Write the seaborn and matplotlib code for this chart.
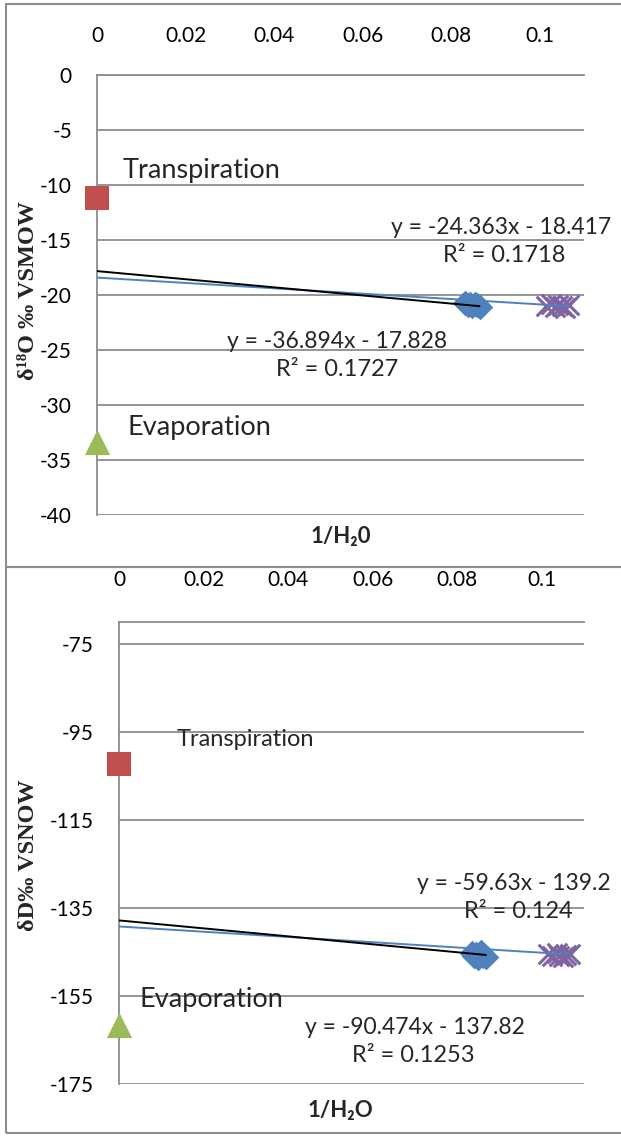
import numpy as np
import pandas as pd
import matplotlib
matplotlib.use("Agg")
import matplotlib.pyplot as plt
import matplotlib.patches as patches
import seaborn as sns

# ---- data ----
transp_x = [0.0]
transp_o18 = [-11.2]
transp_d = [-102.3]

evap_x = [0.0]
evap_o18 = [-33.4]
evap_d = [-161.6]

leaf_x = [0.0832, 0.0838, 0.0843, 0.0848, 0.0853, 0.0858, 0.0864]
leaf_o18 = [-20.7, -20.9, -20.8, -21.0, -20.8, -20.9, -21.1]
leaf_x_d = [0.0834, 0.0840, 0.0845, 0.0850, 0.0856, 0.0862, 0.0868]
leaf_d = [-145.2, -146.0, -145.5, -146.3, -145.0, -145.8, -146.1]

stem_x = [0.1015, 0.1025, 0.1035, 0.1042, 0.1050, 0.1058, 0.1066]
stem_o18 = [-21.0, -20.8, -21.1, -20.9, -21.0, -21.2, -20.9]
stem_d = [-145.5, -146.0, -145.2, -145.8, -146.2, -145.6, -145.4]

# trendline coefficients (slope, intercept) as printed on the chart
trend_blue_o18 = (-24.363, -18.417)
trend_black_o18 = (-36.894, -17.828)
trend_blue_d = (-59.63, -139.2)
trend_black_d = (-90.474, -137.82)

x_ticks = [0, 0.02, 0.04, 0.06, 0.08, 0.1]
x_labels = ["0", "0.02", "0.04", "0.06", "0.08", "0.1"]
o18_ticks = [-40, -35, -30, -25, -20, -15, -10, -5, 0]
d_ticks = [-175, -155, -135, -115, -95, -75]

RED = "#C0504D"
GREEN = "#9BBB59"
BLUE = "#4F81BD"
PURPLE = "#8064A2"
GRID = "#8c8c8c"

sns.set_style("white")
plt.rcParams["font.family"] = ["Lato", "DejaVu Sans"]

W, H = 621, 1142
fig = plt.figure(figsize=(W / 100, H / 100), dpi=100)


def fx(px):
    return px / W


def fy(py):
    return 1 - py / H


def panel(ax, xs, ys, y_ticks, ylim, blue_coef, black_coef, tr_y, ev_y):
    df_leaf = pd.DataFrame({"x": xs[0], "y": ys[0]})
    df_stem = pd.DataFrame({"x": xs[1], "y": ys[1]})
    sns.scatterplot(data=df_leaf, x="x", y="y", marker="D", s=170, color=BLUE,
                    edgecolor=BLUE, linewidth=0, ax=ax, zorder=3, clip_on=False)
    sns.scatterplot(data=df_stem, x="x", y="y", marker="x", s=200, color=PURPLE,
                    linewidth=2.2, ax=ax, zorder=3, clip_on=False)
    sns.scatterplot(x=transp_x, y=tr_y, marker="s", s=300, color=RED,
                    linewidth=0, ax=ax, zorder=4, clip_on=False)
    sns.scatterplot(x=evap_x, y=ev_y, marker="^", s=330, color=GREEN,
                    linewidth=0, ax=ax, zorder=4, clip_on=False)

    # trendlines
    xb = np.array([0, max(xs[1])])
    sns.lineplot(x=xb, y=blue_coef[0] * xb + blue_coef[1], color=BLUE,
                 linewidth=1.4, ax=ax, zorder=5)
    xk = np.array([0, max(xs[0])])
    sns.lineplot(x=xk, y=black_coef[0] * xk + black_coef[1], color="black",
                 linewidth=1.4, ax=ax, zorder=5)

    ax.set_xlim(0, 0.11)
    ax.set_ylim(*ylim)
    ax.set_xticks(x_ticks)
    ax.set_xticklabels(x_labels)
    ax.set_yticks(y_ticks)
    ax.set_yticklabels([str(t) for t in y_ticks])
    ax.xaxis.tick_top()
    ax.tick_params(axis="both", length=0, labelsize=15, colors="black")
    ax.tick_params(axis="y", pad=18)
    ax.set_xlabel("")
    ax.set_ylabel("")
    ax.grid(axis="y", color=GRID, linewidth=1.3)
    ax.grid(axis="x", visible=False)
    for s in ["right", "bottom"]:
        ax.spines[s].set_visible(False)
    for s in ["left", "top"]:
        ax.spines[s].set_color(GRID)
        ax.spines[s].set_linewidth(1.3)


# ---- top panel: d18O ----
ax1 = fig.add_axes([fx(97), fy(515), fx(584) - fx(97), fy(75) - fy(515)])
panel(ax1, (leaf_x, stem_x), (leaf_o18, stem_o18), o18_ticks, (-40, 0),
      trend_blue_o18, trend_black_o18, transp_o18, evap_o18)
ax1.tick_params(axis="x", pad=21)

# ---- bottom panel: dD ----
ax2 = fig.add_axes([fx(119), fy(1084), fx(584) - fx(119), fy(622) - fy(1084)])
panel(ax2, (leaf_x_d, stem_x), (leaf_d, stem_d), d_ticks, (-175, -70),
      trend_blue_d, trend_black_d, transp_d, evap_d)
ax2.tick_params(axis="x", pad=23)

# ---- annotations ----
word = 19.5
eq = 16.5
rr = 17
fig.text(fx(123), fy(171), "Transpiration", fontsize=word, va="center")
fig.text(fx(128), fy(428), "Evaporation", fontsize=word, va="center")
fig.text(fx(611), fy(227), "y = -24.363x - 18.417", fontsize=eq, va="center", ha="right")
fig.text(fx(504), fy(256), "R² = 0.1718", fontsize=rr, va="center", ha="center")
fig.text(fx(337), fy(341), "y = -36.894x - 17.828", fontsize=eq, va="center", ha="center")
fig.text(fx(337), fy(370), "R² = 0.1727", fontsize=rr, va="center", ha="center")

fig.text(fx(177), fy(740), "Transpiration", fontsize=17, va="center")
fig.text(fx(140), fy(999), "Evaporation", fontsize=19.5, va="center")
fig.text(fx(611), fy(883), "y = -59.63x - 139.2", fontsize=eq, va="center", ha="right")
fig.text(fx(518), fy(911), "R² = 0.124", fontsize=rr, va="center", ha="center")
fig.text(fx(415), fy(1027), "y = -90.474x - 137.82", fontsize=eq, va="center", ha="center")
fig.text(fx(413), fy(1055), "R² = 0.1253", fontsize=rr, va="center", ha="center")

# axis titles
serif = ["Liberation Serif", "DejaVu Serif"]
fig.text(fx(29), fy(290), "δ¹⁸O ‰ VSMOW", rotation=90, fontsize=17.5,
         fontweight="bold", family=serif, va="center", ha="center")
fig.text(fx(29), fy(855), "δD‰ VSNOW", rotation=90, fontsize=17.5,
         fontweight="bold", family=serif, va="center", ha="center")
fig.text(fx(341), fy(537), "1/H₂0", fontsize=16, fontweight="bold",
         va="center", ha="center")
fig.text(fx(340), fy(1110), "1/H₂O", fontsize=16, fontweight="bold",
         va="center", ha="center")

# chart frames
for top, bot in [(4, 567), (567, 1133)]:
    fig.patches.append(patches.Rectangle((fx(6), fy(bot)), 1.2, fy(top) - fy(bot),
                                         transform=fig.transFigure, fill=False,
                                         edgecolor=GRID, linewidth=1.5))

fig.savefig("out.png", dpi=100)
